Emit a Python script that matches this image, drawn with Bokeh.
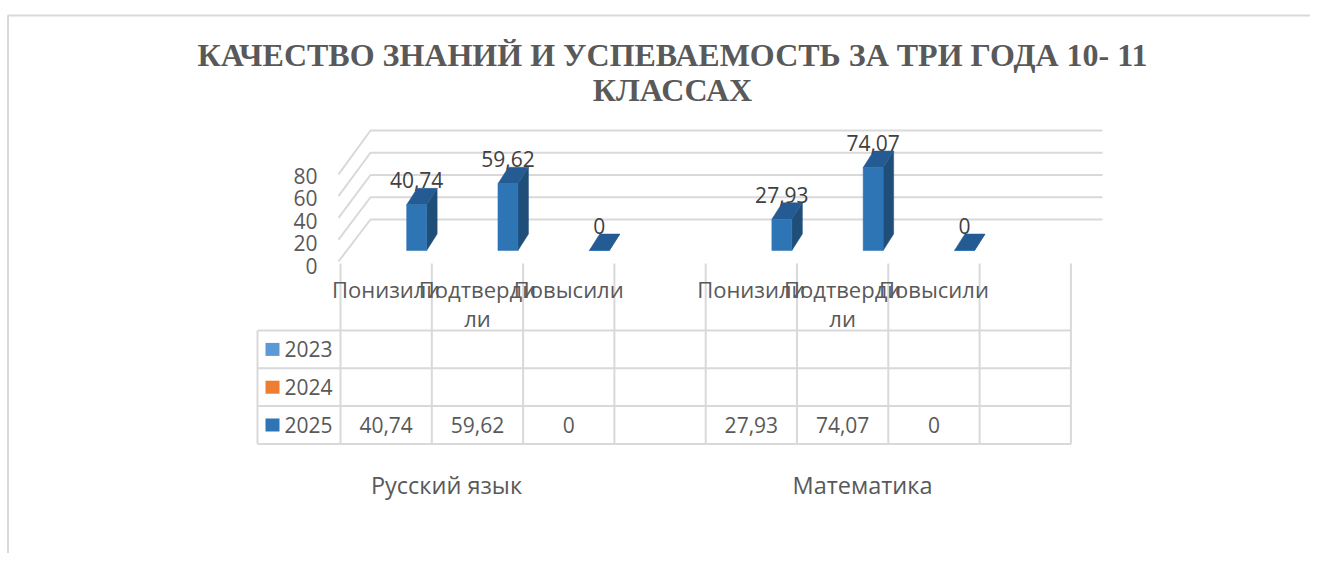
from bokeh.plotting import figure
from bokeh.models import Range1d, ColumnDataSource
from bokeh.core.properties import value
from bokeh.embed import file_html
from bokeh.resources import INLINE

# ---------------- data ----------------
title_lines = ["КАЧЕСТВО ЗНАНИЙ И УСПЕВАЕМОСТЬ ЗА ТРИ ГОДА 10- 11", "КЛАССАХ"]
subjects = ["Русский язык", "Математика"]
categories = ["Понизили", "Подтвердили", "Повысили"]
cat_line1 = ["Понизили", "Подтверди", "Повысили"]
cat_line2 = ["", "ли", ""]
years = ["2023", "2024", "2025"]
year_colors = ["#5B9BD5", "#ED7D31", "#2E75B6"]
rus_2025 = [40.74, 59.62, 0]
math_2025 = [27.93, 74.07, 0]
y_ticks = [0, 20, 40, 60, 80]

# ---------------- geometry helpers (page px -> data units) ----------------
W = 91.3   # px per category slot
S = 1.12   # px per value unit (front plane of bars)
def X(px):
    return (px - 340.0) / W
def Y(py):
    return (250.0 - py) / S

GRID = "#D9D9D9"
TXT = "#595959"
FONT = value("Open Sans")

p = figure(width=1310, height=553, output_backend="svg", toolbar_location=None,
           x_range=Range1d(X(0), X(1310)), y_range=Range1d(Y(553), Y(0)),
           min_border=0, outline_line_color=None)
p.axis.visible = False
p.grid.visible = False
p.background_fill_color = "white"
p.border_fill_color = "white"

# chart frame
p.line([X(7), X(1310)], [Y(15), Y(15)], line_color=GRID, line_width=2)
p.line([X(7.5), X(7.5)], [Y(15), Y(553)], line_color=GRID, line_width=2)

# title
for i, t in enumerate(title_lines):
    p.text(x=[X(672)], y=[Y(54 + 35 * i)], text=[t], text_align="center",
           text_baseline="middle", text_font=value("Liberation Serif"),
           text_font_style="bold", text_font_size="32px", text_color=TXT)

# 3D walls: gridlines
gx, gy = [], []
for v in y_ticks:
    yb = Y(219 - v * 1.1125)
    yf = Y(261 - v * 1.09)
    gx.append([X(338), X(370), X(1102)])
    gy.append([yf, yb, yb])
p.multi_line(gx, gy, line_color=GRID, line_width=2)

# y tick labels
p.text(x=[X(317)] * len(y_ticks), y=[Y(265 - v * 1.125) for v in y_ticks],
       text=[str(v) for v in y_ticks], text_align="right", text_baseline="middle",
       text_font=FONT, text_font_size="21px", text_color=TXT)

# ---------------- bars ----------------
shift = 0.5 + 30.5 / W
bw = 20.0 / W
ddx = 10.5 / W
ddy = 16.5 / S
slots, vals = [], []
for g, series in enumerate([rus_2025, math_2025]):
    for c, v in enumerate(series):
        slots.append(g * 4 + c)
        vals.append(v)
bx = [s + shift for s in slots]
src = ColumnDataSource(dict(
    left=[b - bw / 2 for b in bx], right=[b + bw / 2 for b in bx],
    bottom=[0] * len(bx), top=vals,
))
# side faces
side_xs = [[b + bw / 2, b + bw / 2 + ddx, b + bw / 2 + ddx, b + bw / 2] for b in bx]
side_ys = [[0, ddy, v + ddy, v] for v in vals]
p.patches(side_xs, side_ys, fill_color="#1F4E79", line_color="#1F4E79", line_width=0.5)
# top faces
top_xs = [[b - bw / 2, b + bw / 2, b + bw / 2 + ddx, b - bw / 2 + ddx] for b in bx]
top_ys = [[v, v, v + ddy, v + ddy] for v in vals]
p.patches(top_xs, top_ys, fill_color="#245B92", line_color="#245B92", line_width=0.5)
# front faces
p.quad(left="left", right="right", bottom="bottom", top="top", source=src,
       fill_color="#2E75B6", line_color="#2E75B6", line_width=0.5)

def fmt(v):
    return f"{v:g}".replace(".", ",")

# data labels
p.text(x=bx, y=[v + ddy + 8 / S for v in vals], text=[fmt(v) for v in vals],
       text_align="center", text_baseline="middle", text_font=FONT,
       text_font_size="21px", text_color="#404040")

# ---------------- data table ----------------
row_y = [330, 367.8, 405.6, 443.4]
x_end = 340 + 8 * W
tx, ty = [], []
for r in row_y:
    tx.append([X(257), X(x_end)])
    ty.append([Y(r), Y(r)])
tx.append([X(257), X(257)])
ty.append([Y(330), Y(443.4)])
for i in range(9):
    xx = X(340 + i * W)
    tx.append([xx, xx])
    ty.append([Y(263), Y(443.4)])
p.multi_line(tx, ty, line_color=GRID, line_width=2)

# category labels
cx, t1, t2 = [], [], []
for g in range(len(subjects)):
    for c in range(len(categories)):
        cx.append(g * 4 + c + 0.5)
        t1.append(cat_line1[c])
        t2.append(cat_line2[c])
p.text(x=cx, y=[Y(288)] * len(cx), text=t1, text_align="center", text_baseline="middle",
       text_font=FONT, text_font_size="22px", text_color=TXT)
p.text(x=cx, y=[Y(317)] * len(cx), text=t2, text_align="center", text_baseline="middle",
       text_font=FONT, text_font_size="22px", text_color=TXT)

# legend keys and year names in table
for k, (yr, col) in enumerate(zip(years, year_colors)):
    yc = (row_y[k] + row_y[k + 1]) / 2
    p.quad(left=[X(265)], right=[X(279)], bottom=[Y(yc + 6.5)], top=[Y(yc - 6.5)],
           fill_color=col, line_color=None)
    p.text(x=[X(284)], y=[Y(yc)], text=[yr], text_align="left", text_baseline="middle",
           text_font=FONT, text_font_size="21px", text_color=TXT)

# 2025 values in table
yc = (row_y[2] + row_y[3]) / 2
p.text(x=[s + 0.5 for s in slots], y=[Y(yc)] * len(slots), text=[fmt(v) for v in vals],
       text_align="center", text_baseline="middle", text_font=FONT,
       text_font_size="21px", text_color=TXT)

# subject (group) labels
p.text(x=[X(446), X(862)], y=[Y(484)] * 2, text=subjects, text_align="center",
       text_baseline="middle", text_font=FONT, text_font_size="23.5px", text_color=TXT)

open("out.html", "w").write(file_html(p, INLINE))
